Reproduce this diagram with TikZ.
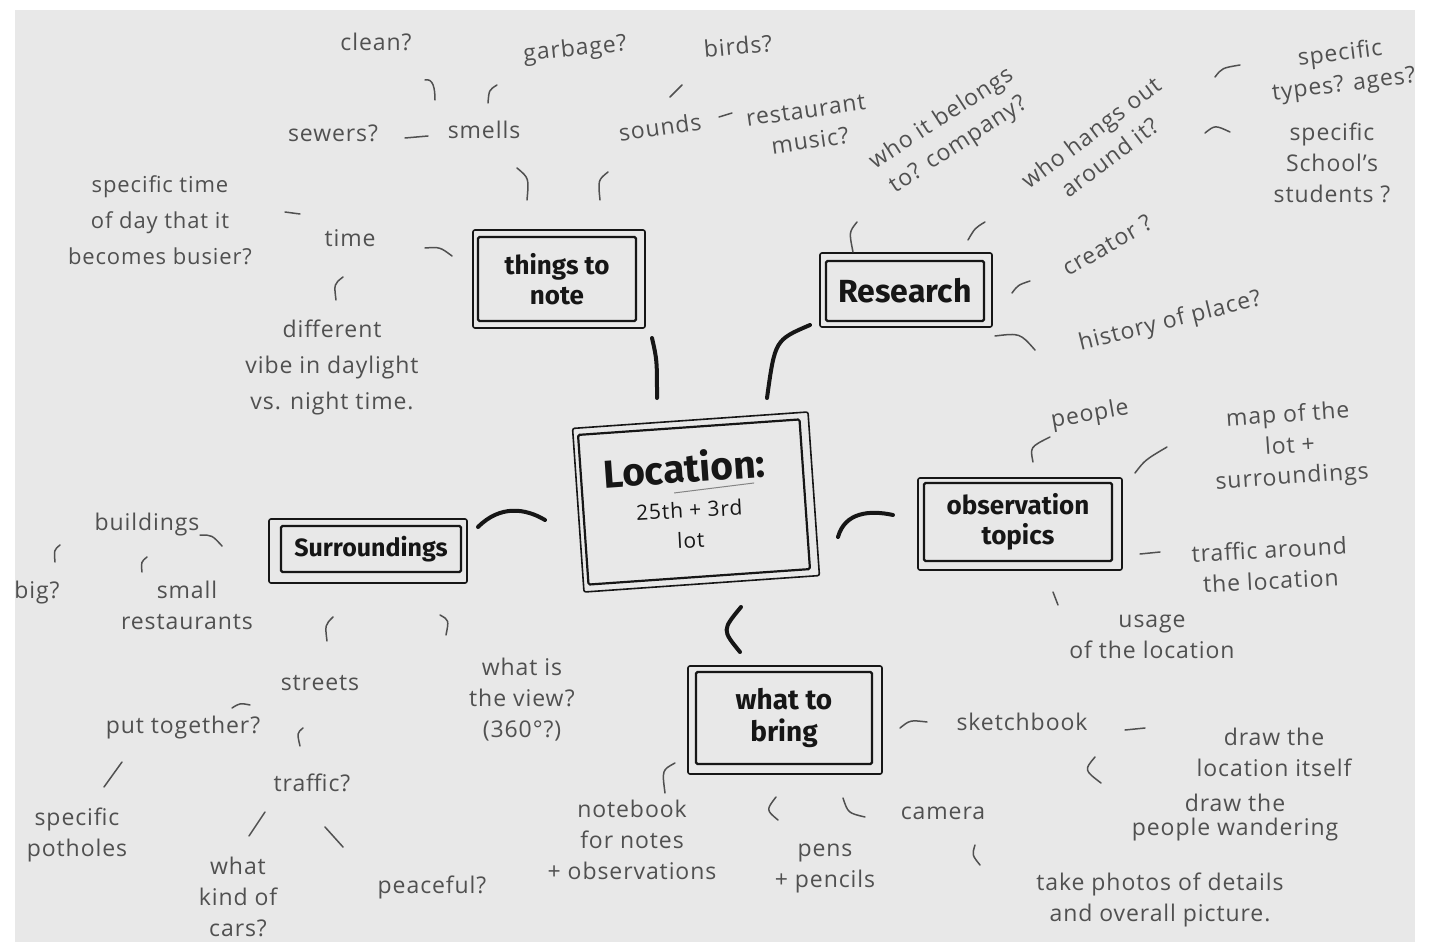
\documentclass[tikz,border=0pt]{standalone}
\usepackage{fontspec}
\setmainfont{Open Sans}[LetterSpace=4]
\newfontfamily\bxfont{Fira Sans}
\definecolor{paper}{HTML}{E8E8E8}
\definecolor{pencil}{HTML}{505050}
\definecolor{marker}{HTML}{161616}
\begin{document}
\begin{tikzpicture}[x=1pt,y=-1pt,
  txt/.style={text=pencil, font=\fontsize{23}{31}\selectfont, align=center, inner sep=0pt},
  boxtxt/.style={text=marker, align=center, inner sep=0pt, draw=marker, line width=2.2pt, rounded corners=1.5pt},
  boxol/.style={draw=marker, line width=1.6pt, rounded corners=2pt, inner sep=0pt},
  pen/.style={draw=pencil, line width=1.5pt, line cap=round},
  conn/.style={draw=marker, line width=4pt, line cap=round},
]
\useasboundingbox (0,0) rectangle (1452,947);
\fill[white] (0,0) rectangle (1452,947);
\fill[paper] (15,10) rectangle (1415,942);

% ---------- boxes ----------
\node[boxol, minimum width=172, minimum height=98] (tnoteo) at (559,279) {};
\node[boxtxt, minimum width=158, minimum height=84, font=\bxfont\bfseries\fontsize{26}{30}\selectfont] (tnote) at (557,279) {things to\\note};

\node[boxol, minimum width=172, minimum height=74] (reso) at (906,290) {};
\node[boxtxt, minimum width=158, minimum height=60, font=\bxfont\bfseries\fontsize{32}{34}\selectfont] (res) at (905,291) {Research};

\node[boxol, minimum width=236, minimum height=164, rotate=4] (loco) at (696,502) {};
\node[boxtxt, minimum width=222, minimum height=150, rotate=4] (loc) at (694,502) {};
\node[text=marker, font=\bxfont\bfseries\fontsize{39}{42}\selectfont, inner sep=0pt, rotate=4] (loct) at (684,467) {Location:};
\node[text=marker, font=\fontsize{21}{30}\selectfont, align=center, inner sep=0pt, rotate=3] (locs) at (690,525) {25th + 3rd\\lot};
\draw[draw=pencil!70, line width=1pt] (loct.south west) ++(70,4) coordinate (ula) -- ++(80,-10) coordinate (ulb);

\node[boxol, minimum width=198, minimum height=64] (suro) at (368,551) {};
\node[boxtxt, minimum width=180, minimum height=46, font=\bxfont\bfseries\fontsize{25}{28}\selectfont] (sur) at (371,549) {Surroundings};

\node[boxol, minimum width=204, minimum height=92] (obso) at (1020,524) {};
\node[boxtxt, minimum width=188, minimum height=78, font=\bxfont\bfseries\fontsize{26}{30}\selectfont] (obs) at (1018,522) {observation\\topics};

\node[boxol, minimum width=194, minimum height=108] (brio) at (785,720) {};
\node[boxtxt, minimum width=176, minimum height=92, font=\bxfont\bfseries\fontsize{28}{32}\selectfont] (bri) at (784,718) {what to\\bring};

% ---------- thick connectors ----------
\draw[conn] (652,338) coordinate (ta1) .. controls (657,360) .. (657,398) coordinate (ta2);
\draw[conn] (810,325) coordinate (tb1) .. controls (775,340) .. (767,398) coordinate (tb2);
\draw[conn] (478,527) coordinate (tc1) .. controls (500,505) and (525,508) .. (545,520) coordinate (tc2);
\draw[conn] (838,537) coordinate (td1) .. controls (845,512) and (870,510) .. (893,515) coordinate (td2);
\draw[conn] (741,607) coordinate (te1) .. controls (722,630) .. (740,652) coordinate (te2);

% ---------- things to note ----------
\node[txt] (clean) at (376,42) {clean?};
\node[txt, rotate=6] (garb) at (575,50) {garbage?};
\node[txt, rotate=5] (birds) at (738,46) {birds?};
\node[txt] (sewers) at (333,133) {sewers?};
\node[txt] (smells) at (484,130) {smells};
\node[txt, rotate=8] (sounds) at (660,127) {sounds};
\node[txt, rotate=8] (restm) at (808,126) {restaurant\\music?};
\node[txt] (time) at (350,238) {time};
\node[txt, font=\fontsize{22}{36}\selectfont] (spectime) at (160,220) {specific time\\of day that it\\becomes busier?};
\node[txt, font=\fontsize{23}{36}\selectfont] (vibe) at (332,367) {different\\vibe in daylight\\vs. night time.};

\draw[pen] (425,80) coordinate (p1a) .. controls (433,78) and (435,88) .. (435,100) coordinate (p1b);
\draw[pen] (497,85) coordinate (p2a) .. controls (489,90) .. (488,103) coordinate (p2b);
\draw[pen] (405,138) coordinate (p3a) -- (428,136) coordinate (p3b);
\draw[pen] (517,168) coordinate (p4a) .. controls (529,178) .. (527,200) coordinate (p4b);
\draw[pen] (608,172) coordinate (p5a) .. controls (598,180) .. (600,200) coordinate (p5b);
\draw[pen] (670,97) coordinate (p6a) -- (682,85) coordinate (p6b);
\draw[pen] (719,117) coordinate (p7a) -- (732,113) coordinate (p7b);
\draw[pen] (425,248) coordinate (p8a) .. controls (440,247) .. (452,256) coordinate (p8b);
\draw[pen] (285,212) coordinate (p9a) -- (300,214) coordinate (p9b);
\draw[pen] (343,277) coordinate (p10a) .. controls (334,284) .. (336,300) coordinate (p10b);

% ---------- research ----------
\node[txt, rotate=33] (belongs) at (950,132) {who it belongs\\to? company?};
\node[txt, rotate=37] (hangs) at (1100,145) {who hangs out\\around it?};
\node[txt, rotate=30] (creator) at (1107,245) {creator ?};
\node[txt, rotate=14] (history) at (1170,322) {history of place?};
\node[txt, rotate=7] (types) at (1342,70) {specific\\types? ages?};
\node[txt] (school) at (1332,163) {specific\\School's\\students ?};

\draw[pen] (857,222) coordinate (q1a) .. controls (849,232) .. (853,252) coordinate (q1b);
\draw[pen] (985,222) coordinate (q2a) .. controls (975,228) .. (968,240) coordinate (q2b);
\draw[pen] (1012,293) coordinate (q3a) .. controls (1018,285) .. (1030,281) coordinate (q3b);
\draw[pen] (995,336) coordinate (q4a) .. controls (1020,333) .. (1035,350) coordinate (q4b);
\draw[pen] (1215,77) coordinate (q5a) .. controls (1222,68) .. (1240,65) coordinate (q5b);
\draw[pen] (1205,133) coordinate (q6a) .. controls (1215,125) .. (1230,132) coordinate (q6b);

% ---------- observation topics ----------
\node[txt, rotate=10] (people) at (1090,415) {people};
\node[txt, rotate=4] (map) at (1290,447) {map of the\\lot +\\surroundings};
\node[txt, rotate=3] (trafa) at (1270,565) {traffic around\\the location};
\node[txt] (usage) at (1152,637) {usage\\of the location};

\draw[pen] (1033,462) coordinate (r1a) .. controls (1030,447) .. (1050,437) coordinate (r1b);
\draw[pen] (1135,473) coordinate (r2a) .. controls (1145,460) .. (1167,447) coordinate (r2b);
\draw[pen] (1140,554) coordinate (r3a) -- (1160,552) coordinate (r3b);
\draw[pen] (1053,592) coordinate (r4a) -- (1058,605) coordinate (r4b);

% ---------- surroundings ----------
\node[txt] (build) at (147,525) {buildings};
\node[txt] (big) at (37,593) {big?};
\node[txt] (small) at (187,605) {small\\restaurants};
\node[txt] (streets) at (320,683) {streets};
\node[txt] (view) at (522,700) {what is\\the view?\\(360°?)};
\node[txt] (putt) at (183,728) {put together?};
\node[txt] (traf) at (312,783) {traffic?};
\node[txt] (pot) at (77,835) {specific\\potholes};
\node[txt] (cars) at (238,897) {what\\kind of\\cars?};
\node[txt] (peace) at (432,887) {peaceful?};

\draw[pen] (200,535) coordinate (s1a) .. controls (212,535) .. (222,546) coordinate (s1b);
\draw[pen] (60,545) coordinate (s2a) .. controls (54,550) .. (55,562) coordinate (s2b);
\draw[pen] (147,557) coordinate (s3a) .. controls (141,562) .. (142,572) coordinate (s3b);
\draw[pen] (333,617) coordinate (s4a) .. controls (325,625) .. (327,641) coordinate (s4b);
\draw[pen] (440,615) coordinate (s5a) .. controls (449,620) .. (446,635) coordinate (s5b);
\draw[pen] (232,708) coordinate (s6a) .. controls (240,703) .. (250,705) coordinate (s6b);
\draw[pen] (303,728) coordinate (s7a) .. controls (297,733) .. (300,746) coordinate (s7b);
\draw[pen] (122,762) coordinate (s8a) -- (104,787) coordinate (s8b);
\draw[pen] (265,812) coordinate (s9a) -- (249,836) coordinate (s9b);
\draw[pen] (325,827) coordinate (s10a) -- (343,847) coordinate (s10b);

% ---------- what to bring ----------
\node[txt] (note) at (632,840) {notebook\\for notes\\+ observations};
\node[txt] (pens) at (825,868) {pens\\+ pencils};
\node[txt] (camera) at (943,813) {camera};
\node[txt] (sketch) at (1022,722) {sketchbook};
\node[txt] (drawl) at (1274,752) {draw the\\location itself};
\node[txt, font=\fontsize{23}{24}\selectfont] (drawp) at (1235,818) {draw the\\people wandering};
\node[txt] (photo) at (1160,900) {take photos of details\\and overall picture.};

\draw[pen] (675,763) coordinate (b1a) .. controls (662,770) .. (665,793) coordinate (b1b);
\draw[pen] (776,797) coordinate (b2a) .. controls (766,810) .. (778,820) coordinate (b2b);
\draw[pen] (843,798) coordinate (b3a) .. controls (848,813) .. (865,817) coordinate (b3b);
\draw[pen] (900,728) coordinate (b4a) .. controls (910,720) .. (927,722) coordinate (b4b);
\draw[pen] (1125,730) coordinate (b5a) -- (1145,728) coordinate (b5b);
\draw[pen] (1095,757) coordinate (b6a) .. controls (1084,770) .. (1101,783) coordinate (b6b);
\draw[pen] (975,845) coordinate (b7a) .. controls (972,855) .. (980,865) coordinate (b7b);
\end{tikzpicture}
\end{document}
